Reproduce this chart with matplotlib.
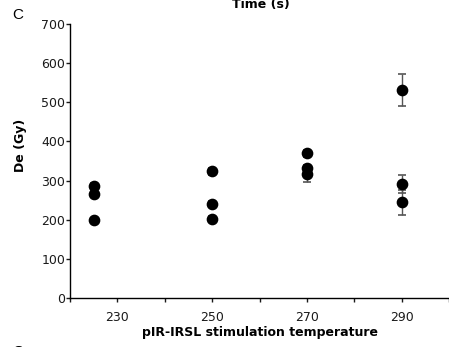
import numpy as np
import matplotlib.pyplot as plt
from matplotlib.ticker import MultipleLocator, FixedLocator

plt.rcParams["font.family"] = ["DejaVu Sans"]

# De values per pIR-IRSL stimulation temperature
temps = [225, 225, 225, 250, 250, 250, 270, 270, 270, 290, 290, 290]
de = [287, 266, 199, 324, 240, 203, 370, 331, 318, 531, 290, 244]
de_err = [8, 8, 6, 9, 7, 6, 9, 10, 21, 41, 23, 33]

major_x = [230, 250, 270, 290]
minor_x = [220, 240, 260, 280, 300]

fig = plt.figure(figsize=(4.49, 3.47), dpi=100)
ax = fig.add_axes([0.156, 0.1412, 0.844, 0.7896])

ax.errorbar(temps, de, yerr=de_err, fmt="o", color="black", ms=7.4,
            ecolor="#555555", elinewidth=1, capsize=3, capthick=1.2,
            zorder=3, clip_on=False)

ax.set_xlim(220, 300)
ax.set_ylim(0, 700)
ax.xaxis.set_major_locator(FixedLocator(major_x))
ax.xaxis.set_minor_locator(FixedLocator(minor_x))
ax.yaxis.set_major_locator(MultipleLocator(100))

for s in ["top", "right"]:
    ax.spines[s].set_visible(False)
for s in ["left", "bottom"]:
    ax.spines[s].set_linewidth(1)

ax.tick_params(axis="both", which="both", direction="out", length=3,
               width=1, labelsize=9, colors="#1a1a1a")
ax.tick_params(axis="y", pad=0.5)
ax.tick_params(axis="x", pad=6)

ax.set_xlabel("pIR-IRSL stimulation temperature", fontsize=9,
              fontweight="bold", labelpad=1.5)
ax.set_ylabel("De (Gy)", fontsize=9, fontweight="bold")
ax.yaxis.set_label_coords(-0.113, 0.558)

fig.text(0.581, 0.977, "Time (s)", fontsize=9, fontweight="bold",
         ha="center", va="baseline")
fig.text(0.04, 0.957, "C", family="Liberation Sans", fontsize=11,
         ha="center", va="center")
fig.text(0.04, 0.006, "C", family="Liberation Sans", fontsize=11,
         ha="center", va="top")

fig.savefig("out.png", dpi=100)
